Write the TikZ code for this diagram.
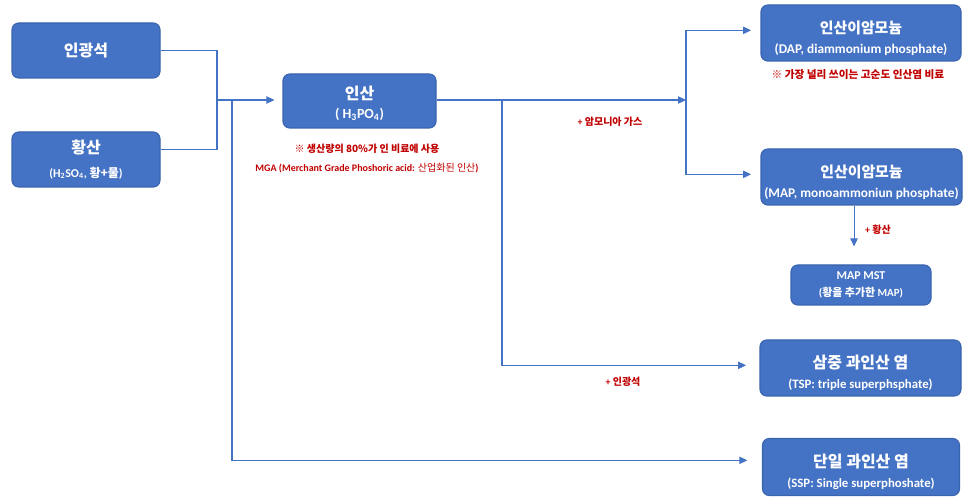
\documentclass[tikz,border=0pt]{standalone}
\usepackage{fontspec}
\setmainfont{Carlito}[BoldFont={Carlito Bold}]
\newfontfamily\krf{Noto Sans CJK KR}
\newcommand\K[1]{{\krf #1}}
\usetikzlibrary{arrows.meta}
\definecolor{boxblue}{HTML}{4472C4}
\definecolor{boxedge}{HTML}{3A64AE}
\definecolor{linkblue}{HTML}{4472C4}
\definecolor{notered}{HTML}{C00000}
\newcommand\ttl{\fontsize{12}{14}\selectfont}
\newcommand\ttlw{\fontsize{11.2}{13}\selectfont}
\newcommand\sbt{\fontsize{9.6}{11}\selectfont}
\newcommand\sbtw{\fontsize{10}{11}\selectfont}
\newcommand\lift[1]{\rule{0pt}{#1}}
\begin{document}
\begin{tikzpicture}[x=0.75pt,y=-0.75pt,
  box/.style={draw=boxedge, line width=0.8pt, fill=boxblue, rounded corners=5pt,
    text=white, font=\bfseries, align=center, inner sep=0pt},
  link/.style={draw=linkblue, line width=0.8pt},
  arr/.style={link, -{Triangle[length=6pt,width=5.5pt]}},
  note/.style={text=notered, font=\bfseries\fontsize{7.5}{9}\selectfont, inner sep=0pt}]
\useasboundingbox (0,0) rectangle (976,498);

% boxes
\node[box, minimum width=111pt, minimum height=41.25pt] (ink) at (86,50.5) {\ttl\K{인광석}};
\node[box, minimum width=111pt, minimum height=41.25pt] (hwang) at (86,159.5)
  {{\ttl\K{황산}}\\[6pt]{\fontsize{9}{11}\selectfont(H\textsubscript{2}SO\textsubscript{4}, \K{황+물})}};
\node[box, minimum width=114.75pt, minimum height=40.5pt] (insan) at (359.5,101)
  {{\ttl\lift{14pt}\K{인산}}\\[2pt]{\fontsize{10.5}{12}\selectfont( H\textsubscript{3}PO\textsubscript{4})}};
\node[box, minimum width=150pt, minimum height=42pt] (dap) at (861,33)
  {{\ttlw\lift{17pt}\K{인산이암모늄}}\\[3pt]{\sbtw(DAP, diammonium phosphate)}};
\node[box, minimum width=150.75pt, minimum height=42pt] (map) at (861.5,177)
  {{\ttlw\lift{17pt}\K{인산이암모늄}}\\[3pt]{\sbtw(MAP, monoammoniun phosphate)}};
\node[box, minimum width=105pt, minimum height=30pt] (mst) at (861,285)
  {{\fontsize{9}{11}\selectfont MAP MST}\\[1pt]{\fontsize{8.2}{10}\selectfont(\K{황을 추가한} MAP)}};
\node[box, minimum width=150.75pt, minimum height=42pt] (tsp) at (860.5,368)
  {{\ttl\lift{17pt}\K{삼중 과인산 염}}\\[3pt]{\sbt(TSP: triple superphsphate)}};
\node[box, minimum width=147.75pt, minimum height=42.75pt] (ssp) at (861,467)
  {{\ttl\lift{17pt}\K{단일 과인산 염}}\\[3pt]{\sbt(SSP: Single superphoshate)}};

% notes
\node[note] (n1) at (367,149) {\K{※ 생산량의 80\%가 인 비료에 사용}};
\node[note] (n2) at (367,168) {MGA (Merchant Grade Phoshoric acid: {\mdseries\K{산업화된 인산}})};
\node[note, font=\bfseries\fontsize{8}{9}\selectfont] (n3) at (858,75) {\K{※ 가장 널리 쓰이는 고순도 인산염 비료}};
\node[note] (n4) at (610,122) {+ \K{암모니아 가스}};
\node[note] (n5) at (623,382) {+ \K{인광석}};
\node[note] (n6) at (878,230) {+ \K{황산}};

% junction coordinates
\coordinate (m) at (217,100);
\coordinate (j2) at (232,100);
\coordinate (v) at (686,100);
\coordinate (t) at (502,100);
\coordinate (ms) at ([xshift=-5.6pt]map.south);

% connectors
\draw[link] (ink.east) -| (m);
\draw[link] ([yshift=7.5pt]hwang.east) -| (m);
\draw[arr, shorten >=6pt] (m) -- (insan.west |- m);
\draw[arr, shorten >=11pt] (j2) |- ([yshift=5pt]ssp.west);
\draw[arr] (insan.east |- v) -- (v);
\draw[arr, shorten >=7pt] (v) |- ([yshift=2pt]dap.west);
\draw[arr, shorten >=7pt] (v) |- ([yshift=2pt]map.west);
\draw[arr, shorten >=10pt] (t) |- ([yshift=2pt]tsp.west);
\draw[arr, shorten >=13.5pt] (ms) -- (ms |- mst.north);
\end{tikzpicture}
\end{document}
